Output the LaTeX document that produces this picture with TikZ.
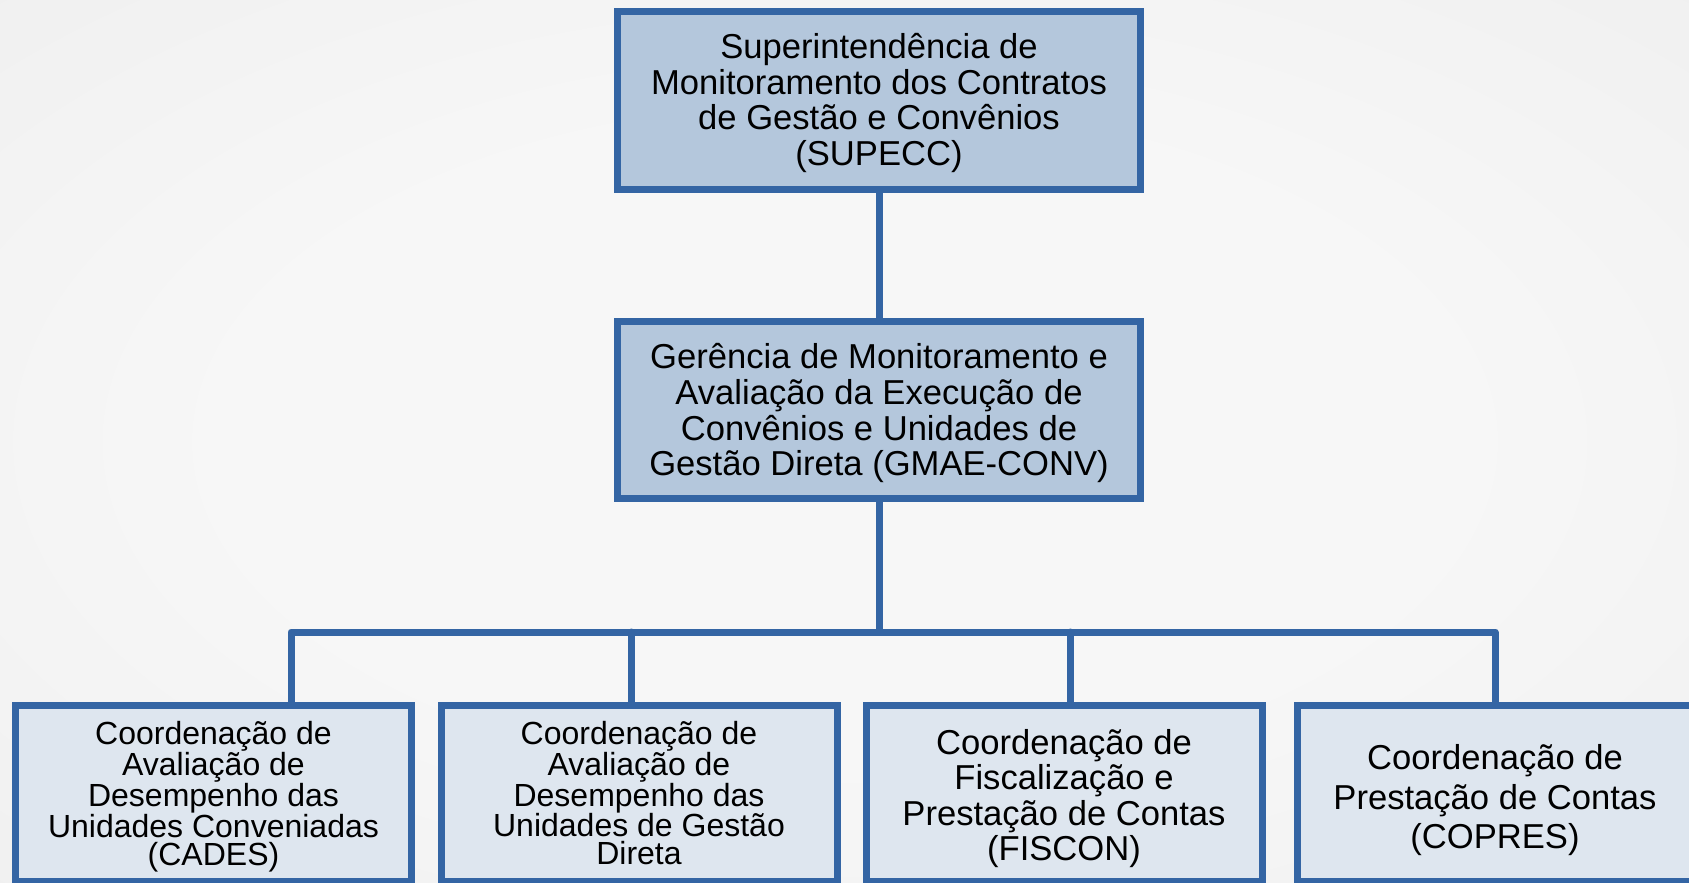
\documentclass[tikz,border=0pt]{standalone}
\usepackage{fontspec}
\setmainfont{Liberation Sans}
\definecolor{bordc}{HTML}{3465A4}
\definecolor{topf}{HTML}{B4C7DC}
\definecolor{lowf}{HTML}{DEE6EF}
\definecolor{bgin}{HTML}{F7F7F7}
\definecolor{bgout}{HTML}{E3E3E3}
\pgfdeclareradialshading{bgshade}{\pgfpoint{0bp}{0bp}}{color(0bp)=(bgin); color(18bp)=(bgin); color(71bp)=(bgout)}
\tikzset{
  box/.style={draw=bordc, line width=7pt, rectangle, inner sep=0pt,
    minimum width=523pt, minimum height=178pt},
  topbox/.style={box, fill=topf},
  lowbox/.style={box, fill=lowf, minimum width=396pt, minimum height=176pt},
  txt/.style={align=center, inner sep=0pt, text=black},
  bigtxt/.style={txt, font=\fontsize{34.6}{35.6}\selectfont},
  smalltxt/.style={txt, font=\fontsize{32}{28.1}\selectfont},
  conn/.style={draw=bordc, line width=7pt, line cap=round, line join=round}
}
\begin{document}
\begin{tikzpicture}[x=1pt,y=-1pt]
\useasboundingbox (0,0) rectangle (1689,883);
\shade[shading=bgshade] (0,0) rectangle (1689,883);

% boxes
\node[topbox] (supecc) at (879,100.5) {};
\node[topbox, minimum height=177pt] (gmae) at (879,410) {};
\node[lowbox] (cades) at (213.5,793.5) {};
\node[lowbox] (caddir) at (639,793.5) {};
\node[lowbox] (fiscon) at (1064,793.5) {};
\node[lowbox] (copres) at (1495,793.5) {};

% texts
\node[bigtxt] (supeccT) at ([yshift=-2.6pt]supecc.center) {Superintendência de\\Monitoramento dos Contratos\\de Gestão e Convênios\\(SUPECC)};
\node[bigtxt] (gmaeT) at ([yshift=-3.2pt]gmae.center) {Gerência de Monitoramento e\\Avaliação da Execução de\\Convênios e Unidades de\\Gestão Direta (GMAE-CONV)};
\node[smalltxt] (cadesT) at ([yshift=-3pt]cades.center) {Coordenação de\\Avaliação de\\Desempenho das\\Unidades Conveniadas\\(CADES)};
\node[smalltxt] (caddirT) at ([yshift=0.4pt]caddir.center) {Coordenação de\\Avaliação de\\Desempenho das\\Unidades de Gestão\\Direta};
\node[txt, font=\fontsize{34.6}{35.5}\selectfont] (fisconT) at ([yshift=-4.8pt]fiscon.center) {Coordenação de\\Fiscalização e\\Prestação de Contas\\(FISCON)};
\node[txt, font=\fontsize{34.6}{39.3}\selectfont] (copresT) at ([yshift=-6.8pt]copres.center) {Coordenação de\\Prestação de Contas\\(COPRES)};

% connectors
\coordinate (bar) at (879,632);
\coordinate (j1) at (291,632);
\coordinate (j2) at (631,632);
\coordinate (j3) at (1070,632);
\coordinate (j4) at (1495,632);

\draw[conn] (supecc.south) -- (gmae.north);
\draw[conn] (gmae.south) -- (bar);
\draw[conn] (j1 |- cades.north) -- (j1) -- (j4) -- (j4 |- copres.north);
\draw[conn] (j2) -- (j2 |- caddir.north);
\draw[conn] (j3) -- (j3 |- fiscon.north);
\end{tikzpicture}
\end{document}
